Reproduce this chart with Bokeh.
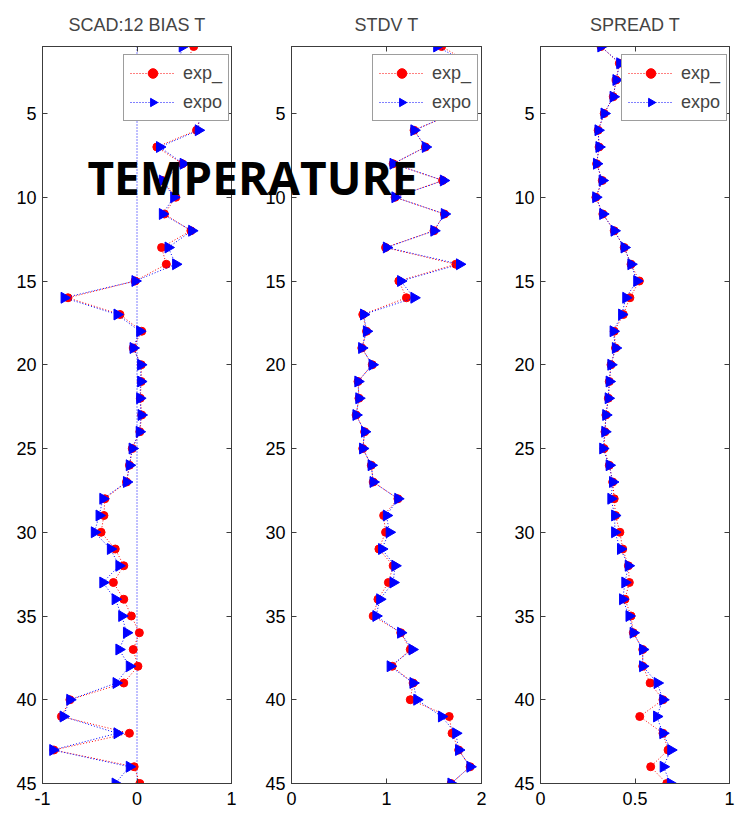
import math
from bokeh.plotting import figure
from bokeh.models import Range1d, LinearAxis, FixedTicker, Span, Label, Legend, LegendItem
from bokeh.layouts import row, column
from bokeh.embed import file_html
from bokeh.resources import INLINE

# model levels (y) and the three diagnostics for the two experiments
levels = list(range(1, 46))

bias_exp_ = [0.60, 0.52, 0.48, 0.55, 0.68, 0.63, 0.21, 0.48, 0.27, 0.41,
             0.29, 0.57, 0.26, 0.31, -0.02, -0.73, -0.18, 0.05, -0.04, 0.045,
             0.045, 0.035, 0.05, 0.03, -0.05, -0.08, -0.11, -0.34, -0.35, -0.38,
             -0.23, -0.14, -0.25, -0.14, -0.06, 0.025, -0.04, 0.01, -0.14, -0.71,
             -0.80, -0.08, -0.88, -0.03, 0.03]
bias_expo = [0.48, 0.44, 0.42, 0.50, 0.66, 0.65, 0.24, 0.49, 0.27, 0.39,
             0.27, 0.58, 0.33, 0.41, -0.02, -0.77, -0.21, 0.03, -0.04, 0.04,
             0.04, 0.03, 0.045, 0.025, -0.05, -0.08, -0.11, -0.36, -0.40, -0.45,
             -0.28, -0.19, -0.36, -0.23, -0.16, -0.11, -0.19, -0.08, -0.22, -0.71,
             -0.78, -0.21, -0.89, -0.08, -0.23]

stdv_exp_ = [1.58, 1.88, 1.82, 1.78, 1.70, 1.29, 1.41, 1.07, 1.59, 1.09,
             1.61, 1.50, 0.99, 1.73, 1.13, 1.21, 0.75, 0.79, 0.74, 0.85,
             0.70, 0.71, 0.68, 0.77, 0.75, 0.84, 0.86, 1.12, 0.97, 0.99,
             0.92, 1.07, 1.02, 0.91, 0.86, 1.15, 1.25, 1.06, 1.28, 1.25,
             1.66, 1.69, 1.76, 1.88, 1.68]
stdv_expo = [1.53, 1.86, 1.80, 1.78, 1.70, 1.29, 1.41, 1.07, 1.60, 1.09,
             1.61, 1.50, 1.00, 1.77, 1.15, 1.29, 0.76, 0.79, 0.74, 0.85,
             0.70, 0.71, 0.68, 0.77, 0.75, 0.84, 0.86, 1.12, 1.00, 1.03,
             0.95, 1.09, 1.07, 0.93, 0.89, 1.15, 1.27, 1.04, 1.28, 1.32,
             1.58, 1.73, 1.76, 1.88, 1.68]

spread_exp_ = [0.32, 0.417, 0.40, 0.385, 0.337, 0.305, 0.31, 0.297, 0.327, 0.293,
               0.33, 0.39, 0.443, 0.479, 0.523, 0.473, 0.438, 0.39, 0.397, 0.373,
               0.364, 0.359, 0.346, 0.341, 0.336, 0.364, 0.382, 0.39, 0.397, 0.42,
               0.435, 0.465, 0.47, 0.447, 0.479, 0.491, 0.541, 0.541, 0.58, 0.648,
               0.525, 0.648, 0.675, 0.583, 0.668]
spread_expo = [0.32, 0.42, 0.40, 0.385, 0.337, 0.305, 0.31, 0.297, 0.327, 0.293,
               0.33, 0.39, 0.443, 0.479, 0.51, 0.452, 0.43, 0.385, 0.397, 0.373,
               0.364, 0.359, 0.346, 0.341, 0.33, 0.364, 0.382, 0.373, 0.393, 0.393,
               0.424, 0.465, 0.447, 0.435, 0.469, 0.491, 0.541, 0.541, 0.618, 0.648,
               0.615, 0.648, 0.69, 0.65, 0.688]

series_names = ["exp_", "expo"]
y_ticks = [5, 10, 15, 20, 25, 30, 35, 40, 45]
bias_ticks = [-1, 0, 1]
stdv_ticks = [0, 1, 2]
spread_ticks = [0, 0.5, 1]
spread_tick_labels = ["0", "0.5", "1"]
bias_zero = 0

FONT = "Liberation Sans"
FSIZE = "18px"
AXIS_COLOR = "#3c3c3c"


def right_triangles(p, xs):
    """Blue right-pointing triangles, one per level."""
    return p.ngon(xs, levels, radius=6.3, n=3, angle=-math.pi / 2,
                  radius_units="screen", fill_color="blue", line_color="blue")


def panel(title, xr, xticks, xlabels, red, blue, width, left, right, zero=None):
    p = figure(width=width, height=822, x_range=Range1d(*xr), y_range=Range1d(45, 1),
               toolbar_location=None, output_backend="svg",
               min_border_left=left, min_border_right=right,
               min_border_top=46, min_border_bottom=39)
    p.xgrid.visible = False
    p.ygrid.visible = False
    p.outline_line_color = AXIS_COLOR
    p.outline_line_width = 1

    p.title.text = title
    p.title.align = "center"
    p.title.text_font = FONT
    p.title.text_font_style = "normal"
    p.title.text_font_size = FSIZE
    p.title.standoff = 23

    overrides = {t: l for t, l in zip(xticks, xlabels)}
    for ax in (p.xaxis[0], p.yaxis[0]):
        ax.major_tick_in = 5
        ax.major_tick_out = 0
        ax.minor_tick_line_color = None
        ax.axis_line_color = AXIS_COLOR
        ax.major_tick_line_color = AXIS_COLOR
        ax.major_label_text_font = FONT
        ax.major_label_text_font_size = FSIZE
        ax.major_label_text_color = "black"
    p.xaxis[0].ticker = FixedTicker(ticks=xticks)
    p.xaxis[0].major_label_overrides = overrides
    p.xaxis[0].major_label_standoff = 8
    p.yaxis[0].ticker = FixedTicker(ticks=y_ticks)
    p.yaxis[0].major_label_standoff = 6

    # mirrored inward ticks on the top and right edges, without labels
    for side, ticks in (("right", y_ticks), ("above", xticks)):
        ax = LinearAxis(ticker=FixedTicker(ticks=ticks))
        ax.major_tick_in = 5
        ax.major_tick_out = 0
        ax.minor_tick_line_color = None
        ax.axis_line_color = AXIS_COLOR
        ax.major_tick_line_color = AXIS_COLOR
        ax.major_label_text_font_size = "1px"
        ax.major_label_text_color = None
        ax.major_label_standoff = 0
        p.add_layout(ax, side)

    if zero is not None:
        p.add_layout(Span(location=zero, dimension="height", line_color="blue",
                          line_dash="1 2", line_width=1, level="underlay"))

    r_line = p.line(red, levels, line_color="red", line_dash="1 2", line_width=1)
    r_pts = p.scatter(red, levels, marker="circle", size=8,
                      fill_color="red", line_color="red")
    b_line = p.line(blue, levels, line_color="blue", line_dash="1 2", line_width=1)
    b_pts = right_triangles(p, blue)

    legend = Legend(items=[LegendItem(label=series_names[0], renderers=[r_line, r_pts]),
                           LegendItem(label=series_names[1], renderers=[b_line, b_pts])],
                    location=(81, 662))
    legend.label_text_font = FONT
    legend.label_text_font_size = FSIZE
    legend.glyph_width = 45
    legend.glyph_height = 24
    legend.label_height = 24
    legend.label_standoff = 8
    legend.padding = 6
    legend.spacing = 5
    legend.margin = 0
    legend.border_line_color = AXIS_COLOR
    legend.border_line_width = 1
    legend.background_fill_color = "white"
    legend.background_fill_alpha = 1
    p.add_layout(legend)
    return p


p1 = panel("SCAD:12 BIAS T", (-1, 1), bias_ticks, ["-1", "0", "1"],
           bias_exp_, bias_expo, 241, 42, 10, zero=bias_zero)
p2 = panel("STDV T", (0, 2), stdv_ticks, ["0", "1", "2"],
           stdv_exp_, stdv_expo, 249, 50, 9)
p3 = panel("SPREAD T", (0, 1), spread_ticks, spread_tick_labels,
           spread_exp_, spread_expo, 250, 50, 11)

# transparent strip carrying the big heading, laid over the panels
banner = figure(width=740, height=70, x_range=Range1d(0, 740), y_range=Range1d(0, 70),
                toolbar_location=None, output_backend="svg", min_border=0,
                background_fill_alpha=0, border_fill_alpha=0, outline_line_color=None)
banner.axis.visible = False
banner.xgrid.visible = False
banner.ygrid.visible = False
banner.add_layout(Label(x=252, y=35, text="TEMPERATURE", text_align="center",
                        text_baseline="middle", text_font="Open Sans",
                        text_font_style="bold", text_font_size="46px",
                        text_color="black"))
banner.margin = (-681, 0, 0, 0)

panels = row(p1, p2, p3, spacing=0)
layout = column(panels, banner, spacing=0)

open("out.html", "w").write(file_html(layout, INLINE))
